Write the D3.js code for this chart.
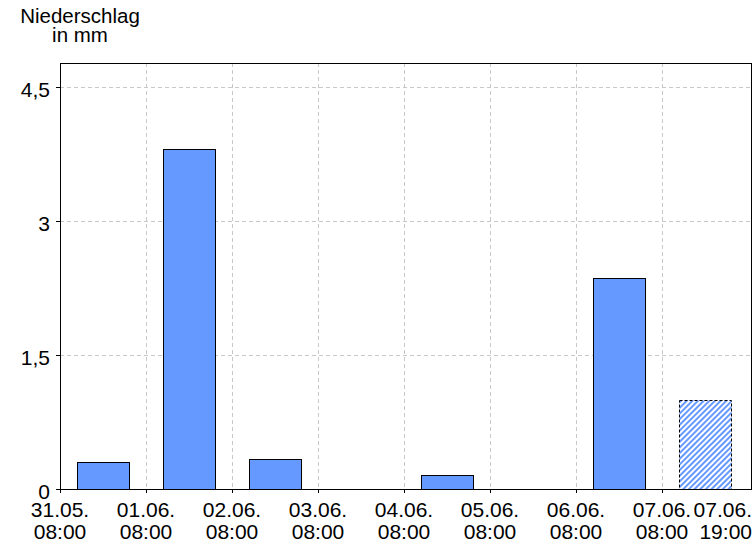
<!DOCTYPE html>
<html><head><meta charset="utf-8">
<script src="https://cdn.jsdelivr.net/npm/d3@7"></script>
<style>body{margin:0;background:#fff}svg{display:block}text{font-family:Arial,"Liberation Sans",sans-serif;fill:#000}</style>
</head><body>
<script>
const tickLines1 = ["31.05.","01.06.","02.06.","03.06.","04.06.","05.06.","06.06.","07.06.","07.06."];
const tickLines2 = ["08:00","08:00","08:00","08:00","08:00","08:00","08:00","08:00","19:00"];
const values = [0.30, 3.81, 0.34, 0, 0.16, 0, 2.36, 1.00];
const forecast = [false,false,false,false,false,false,false,true];
const yTicks = [0, 1.5, 3, 4.5];
const yMax = 4.77;

const W=756,H=546, L=60, R=751, T=63, B=489, STEP=86;
const svg=d3.select("body").append("svg").attr("width",W).attr("height",H);
const defs=svg.append("defs");
const pat=defs.append("pattern").attr("id","hatch").attr("patternUnits","userSpaceOnUse")
  .attr("width",4).attr("height",4).attr("patternTransform","rotate(45)");
pat.append("rect").attr("width",4).attr("height",4).attr("fill","#fff");
pat.append("rect").attr("width",2).attr("height",4).attr("fill","#6699ff");

const x=d3.scaleLinear().domain([0,values.length]).range([L,L+STEP*values.length]);
const y=d3.scaleLinear().domain([0,yMax]).range([B,T]);
const fmt=v=>String(v).replace(".",",");

// grid
const g=svg.append("g");
g.selectAll(".vg").data(d3.range(1,values.length)).join("line")
  .attr("x1",d=>Math.round(x(d))+0.5).attr("x2",d=>Math.round(x(d))+0.5)
  .attr("y1",T).attr("y2",B).attr("stroke","#c8c8c8").attr("stroke-dasharray","4,3");
g.selectAll(".hg").data(yTicks.filter(d=>d>0)).join("line")
  .attr("x1",L).attr("x2",R).attr("y1",d=>Math.round(y(d))+0.5).attr("y2",d=>Math.round(y(d))+0.5)
  .attr("stroke","#c8c8c8").attr("stroke-dasharray","4,3");

// bars
svg.selectAll(".bar").data(values).join("rect")
  .attr("x",(d,i)=>Math.round(x(i+0.2))+0.5)
  .attr("width",(d,i)=>Math.round(x(i+0.8))-Math.round(x(i+0.2)))
  .attr("y",d=>Math.round(y(d))+0.5)
  .attr("height",d=>Math.round(y(0))-Math.round(y(d)))
  .attr("fill",(d,i)=>forecast[i]?"url(#hatch)":"#6699ff")
  .attr("stroke","#000").attr("stroke-width",1)
  .attr("stroke-dasharray",(d,i)=>forecast[i]?"3,2":null)
  .attr("display",d=>d>0?null:"none");

// frame
svg.append("rect").attr("x",L+0.5).attr("y",T+0.5).attr("width",R-L).attr("height",B-T)
  .attr("fill","none").attr("stroke","#000");

// y ticks
const yt=svg.append("g");
yt.selectAll("line").data(yTicks).join("line")
  .attr("x1",L-4).attr("x2",L).attr("y1",d=>Math.round(y(d))+0.5).attr("y2",d=>Math.round(y(d))+0.5).attr("stroke","#000");
yt.selectAll("text").data(yTicks).join("text")
  .attr("x",50).attr("y",d=>y(d)+10).attr("text-anchor","end").attr("font-size",21).text(fmt);

// x ticks
const xt=svg.append("g");
xt.selectAll("line").data(d3.range(0,values.length)).join("line")
  .attr("x1",d=>Math.round(x(d))+0.5).attr("x2",d=>Math.round(x(d))+0.5).attr("y1",B).attr("y2",B+4).attr("stroke","#000");
const lab=xt.selectAll("text").data(tickLines1).join("text")
  .attr("font-size",21)
  .attr("text-anchor",(d,i)=>i===tickLines1.length-1?"end":"middle")
  .attr("transform",(d,i)=>`translate(${i===tickLines1.length-1?R+1:x(i)},0)`);
lab.append("tspan").attr("x",0).attr("y",517).text(d=>d);
lab.append("tspan").attr("x",0).attr("y",539).text((d,i)=>tickLines2[i]);

// title
const t=svg.append("text").attr("font-size",20.5).attr("text-anchor","middle");
t.append("tspan").attr("x",80).attr("y",23).text("Niederschlag");
t.append("tspan").attr("x",80).attr("y",42).text("in mm");
</script>
</body></html>
